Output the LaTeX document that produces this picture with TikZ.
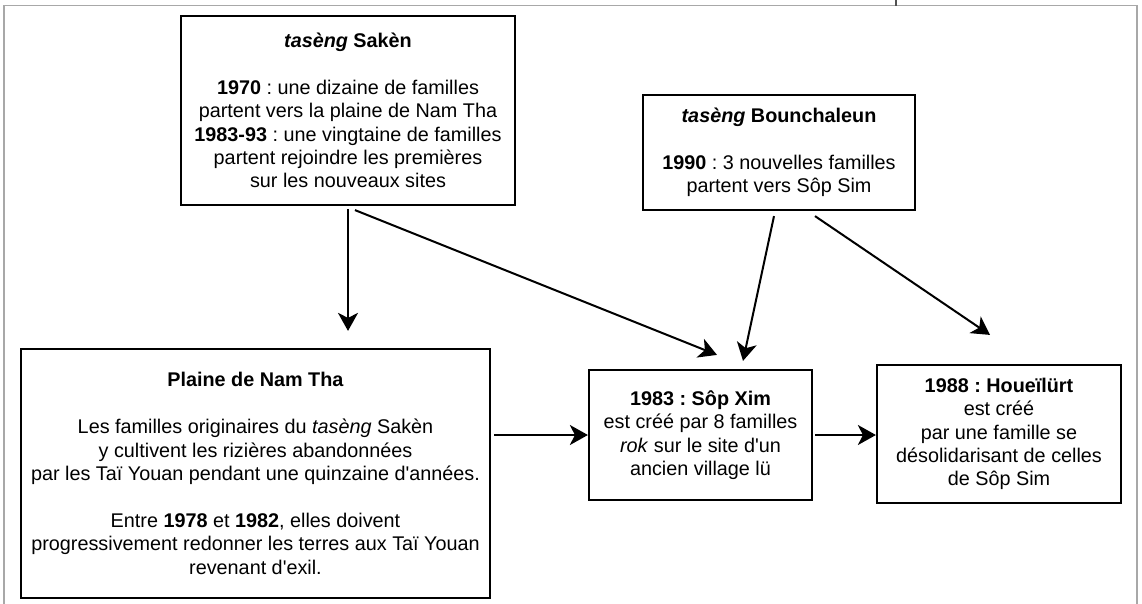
\documentclass[tikz,border=0pt]{standalone}
\usepackage{fontspec}
\setmainfont{Liberation Sans}[Ligatures=TeXOff]
\usepackage{xcolor}
\usetikzlibrary{arrows.meta,positioning}
\definecolor{framegray}{HTML}{A8A8A8}
\definecolor{tickgray}{HTML}{505050}
\frenchspacing

\begin{document}
\begin{tikzpicture}[
  x=1pt, y=-1pt,
  box/.style={draw, line width=2.2pt, align=center, inner sep=0pt, font=\fontsize{19.8}{23.4}\selectfont},
  arrow/.style={-{Stealth[length=18pt, width=20pt, inset=5pt]}, line width=2pt}
]
\useasboundingbox (0,0) rectangle (1142,603);
\clip (0,0) rectangle (1142,603);
% page frame
\draw[framegray, line width=1.3pt] (4,640) -- (4,5.5) -- (1137,5.5) -- (1137,640);
\draw[tickgray, line width=1.3pt] (896,0) -- (896,5.5);

\node[box, minimum width=334pt, minimum height=189pt] (saken) at (348,110.5)
  {\textbf{\textit{tasèng} Sakèn}\\[\baselineskip]
   \textbf{1970} : une dizaine de familles\\
   partent vers la plaine de Nam Tha\\
   \textbf{1983-93} : une vingtaine de familles\\
   partent rejoindre les premières\\
   sur les nouveaux sites};
\node[box, minimum width=272pt, minimum height=115pt] (bounchaleun) at (779,152.5)
  {\textbf{\textit{tasèng} Bounchaleun}\\[\baselineskip]
   \textbf{1990} : 3 nouvelles familles\\
   partent vers Sôp Sim};
\node[box, minimum width=469pt, minimum height=249pt] (plaine) at (255.5,473.5)
  {\textbf{Plaine de Nam Tha}\\[\baselineskip]
   Les familles originaires du \textit{tasèng} Sakèn\\
   y cultivent les rizières abandonnées\\
   par les Taï Youan pendant une quinzaine d'années.\\[\baselineskip]
   Entre \textbf{1978} et \textbf{1982}, elles doivent\\
   progressivement redonner les terres aux Taï Youan\\
   revenant d'exil.};
\node[box, minimum width=223pt, minimum height=130pt] (sopxim) at (700.5,435)
  {\textbf{1983 : Sôp Xim}\\
   est créé par 8 familles\\
   \textit{rok} sur le site d'un\\
   ancien village lü};
\node[box, minimum width=244pt, minimum height=138pt] (houeilurt) at (999,434)
  {\textbf{1988 : Houeïlürt}\\
   est créé\\
   par une famille se\\
   désolidarisant de celles\\
   de Sôp Sim};

% migrations
\draw[arrow, shorten <=3pt, shorten >=17pt] (saken.south) -- (saken.south |- plaine.north);
\draw[arrow] ([xshift=7pt, yshift=-4pt]saken.south) -- ([xshift=16.5pt, yshift=14pt]sopxim.north);
\draw[arrow] ([xshift=-5pt, yshift=-5pt]bounchaleun.south) -- ([xshift=42.5pt, yshift=8pt]sopxim.north);
\draw[arrow] ([xshift=36pt, yshift=-5pt]bounchaleun.south) -- ([xshift=-9pt, yshift=29pt]houeilurt.north);
\draw[arrow, shorten <=3pt] (plaine.east |- sopxim.west) -- (sopxim.west);
\draw[arrow, shorten <=2pt] (sopxim.east) -- (houeilurt.west |- sopxim.east);
\end{tikzpicture}
\end{document}
